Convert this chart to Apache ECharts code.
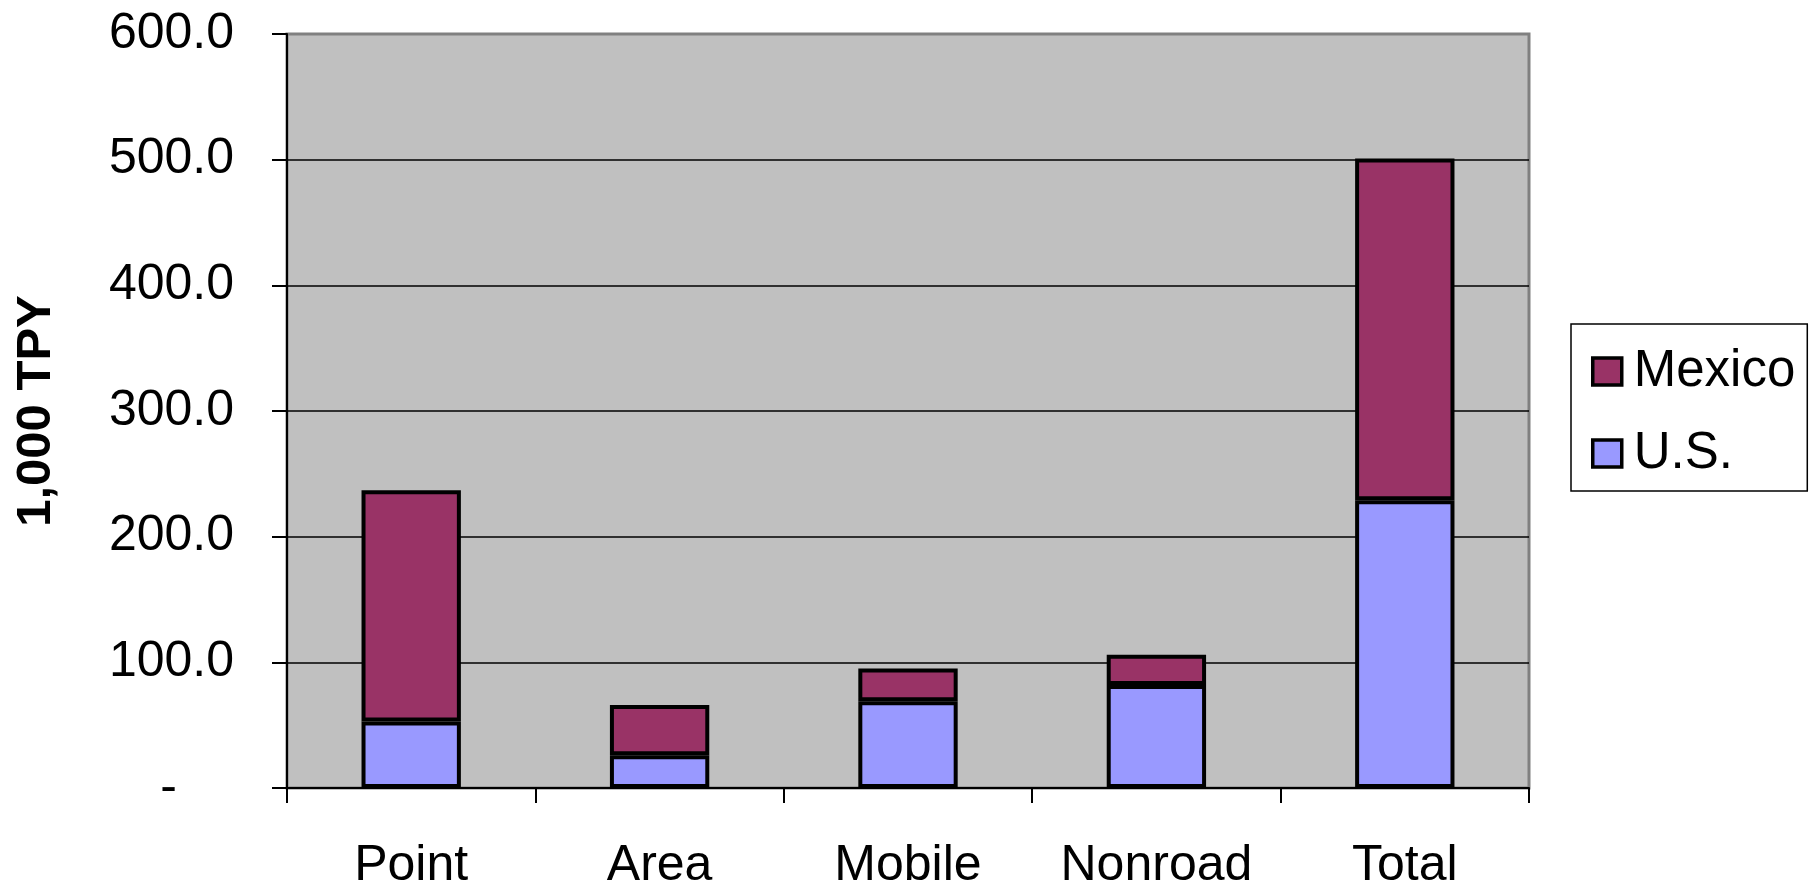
<!DOCTYPE html>
<html>
<head>
<meta charset="utf-8">
<title>1,000 TPY by source category</title>
<script src="https://cdn.jsdelivr.net/npm/echarts@6/dist/echarts.min.js"></script>
<style>
  html, body { margin: 0; padding: 0; background: #ffffff; }
  #chart { width: 1810px; height: 882px; }
</style>
</head>
<body>
<div id="chart"></div>
<script>
// Emissions by source category, thousand tons per year
const categories = ['Point', 'Area', 'Mobile', 'Nonroad', 'Total'];
const usValues = [53, 26, 69, 82, 229];
const mexicoValues = [184, 40, 26, 24, 272];
const yTicks = { min: 0, max: 600, interval: 100 };
const yAxisTitle = '1,000 TPY';

const FONT = '"Liberation Sans", Arial, sans-serif';
const MEXICO_COLOR = '#993366';
const US_COLOR = '#9999FF';

const chart = echarts.init(document.getElementById('chart'), null, { renderer: 'canvas' });

chart.setOption({
  animation: false,
  backgroundColor: '#ffffff',
  textStyle: { fontFamily: FONT, color: '#000' },
  grid: {
    left: 287, right: 281, top: 34, bottom: 94,
    outerBoundsMode: 'none',
    containLabel: false,
    show: true,
    backgroundColor: '#C0C0C0',
    borderColor: '#808080',
    borderWidth: 3
  },
  legend: {
    orient: 'vertical',
    left: 1571, top: 324,
    data: ['Mexico', 'U.S.'],
    backgroundColor: '#ffffff',
    borderColor: '#000',
    borderWidth: 1.5,
    borderRadius: 0,
    padding: [22, 12, 12, 20],
    itemWidth: 29,
    itemHeight: 27,
    itemGap: 31,
    itemTextGap: 24,
    icon: 'rect',
    itemStyle: { borderColor: '#000', borderWidth: 3.5 },
    textStyle: { fontFamily: FONT, fontSize: 51, lineHeight: 50, color: '#000', padding: [0, 0, 0, 7] }
  },
  xAxis: {
    type: 'category',
    data: categories,
    boundaryGap: true,
    axisLine: { show: true, lineStyle: { color: '#000', width: 2 } },
    axisTick: { show: true, alignWithLabel: false, interval: 0, length: 15, lineStyle: { color: '#000', width: 2 } },
    axisLabel: { interval: 0, margin: 53, fontFamily: FONT, fontSize: 50, color: '#000' },
    splitLine: { show: false }
  },
  yAxis: {
    type: 'value',
    min: yTicks.min,
    max: yTicks.max,
    interval: yTicks.interval,
    name: yAxisTitle,
    nameLocation: 'middle',
    nameGap: 226,
    nameTextStyle: { fontFamily: FONT, fontSize: 49, fontWeight: 'bold', color: '#000' },
    axisLine: { show: true, lineStyle: { color: '#000', width: 2 } },
    axisTick: { show: true, length: 15, lineStyle: { color: '#000', width: 2 } },
    axisLabel: {
      margin: 53,
      fontFamily: FONT,
      fontSize: 50,
      color: '#000',
      formatter: v => (v === 0 ? '{d|-}' : v.toFixed(1)),
      rich: { d: { fontFamily: FONT, fontSize: 50, color: '#000', padding: [0, 57, 0, 0] } }
    },
    splitLine: {
      show: true,
      lineStyle: { color: ['#000', '#000', '#000', '#000', '#000', '#000', '#808080'], width: 1.5 }
    }
  },
  series: [
    {
      name: 'U.S.',
      type: 'bar',
      stack: 'emissions',
      data: usValues,
      barWidth: '40%',
      itemStyle: { color: US_COLOR, borderColor: '#000', borderWidth: 4 }
    },
    {
      name: 'Mexico',
      type: 'bar',
      stack: 'emissions',
      data: mexicoValues,
      barWidth: '40%',
      itemStyle: { color: MEXICO_COLOR, borderColor: '#000', borderWidth: 4 }
    }
  ]
});
</script>
</body>
</html>
